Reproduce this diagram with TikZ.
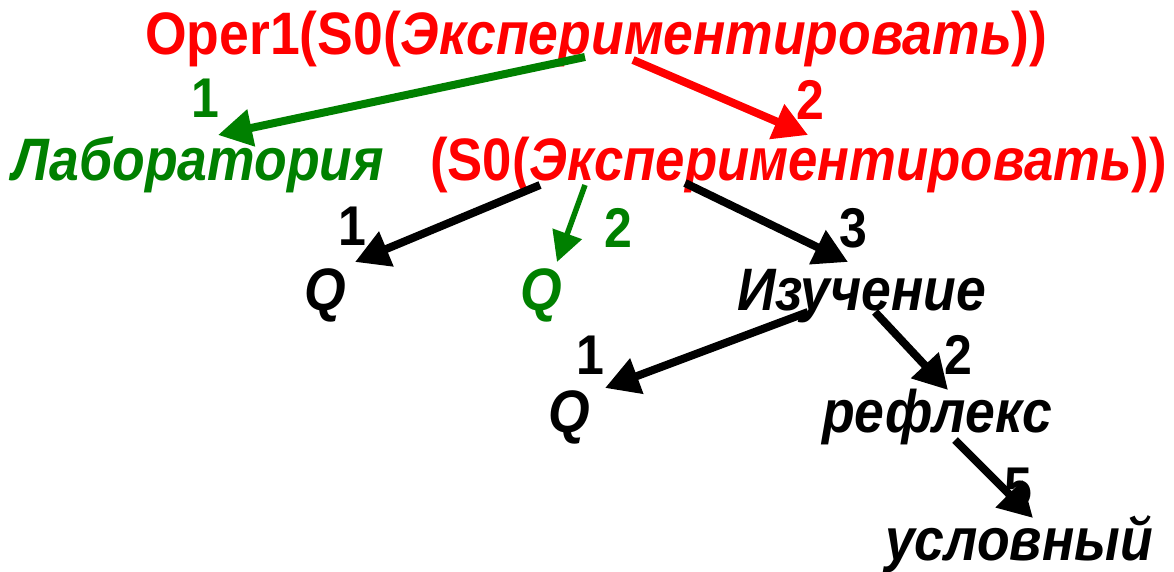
\documentclass[tikz,border=0pt]{standalone}
\usepackage{fontspec}
\setmainfont{Liberation Sans}
\usetikzlibrary{arrows.meta}
\definecolor{dgreen}{RGB}{0,128,0}
\definecolor{pred}{RGB}{255,0,0}
% slightly taller letterforms
\newcommand{\tallbox}[2][1]{\scalebox{#1}[1.12]{#2}}
\tikzset{
  word/.style={anchor=base west, inner sep=0pt, font=\fontsize{53.5}{60}\selectfont\bfseries\itshape},
  plain/.style={anchor=base west, inner sep=0pt, font=\fontsize{53.5}{60}\selectfont\bfseries},
  num/.style={inner sep=0pt, font=\fontsize{50}{54}\selectfont\bfseries},
  link/.style={line width=8pt, -{Triangle[length=34pt,width=36pt]}},
}
\begin{document}
\begin{tikzpicture}[x=1pt,y=-1pt]
\useasboundingbox (0,0) rectangle (1174,572);
% level 0
\node[plain, text=pred] (root) at (145,55) {\tallbox{Oper1(S0(\textit{Экспериментировать}))}};
% level 1
\node[word, text=dgreen] (lab) at (12,180) {\tallbox{Лаборатория}};
\node[plain, text=pred] (s0) at (430,180) {\tallbox[0.985]{(S0(\textit{Экспериментировать}))}};
% level 2
\node[word] (q1) at (304,310) {\tallbox{Q}};
\node[word, text=dgreen] (q2) at (520,310) {\tallbox{Q}};
\node[word] (izu) at (737,310) {\tallbox{Изучение}};
% level 3
\node[word] (q3) at (548,432) {\tallbox{Q}};
\node[word] (ref) at (822,432) {\tallbox{рефлекс}};
% level 4
\node[word] (usl) at (885,560) {\tallbox{условный}};

% connector ends
\coordinate (r1) at (585,57);   \coordinate (labT) at (218,135);
\coordinate (r2) at (633,60);   \coordinate (s0T) at (808,135);
\coordinate (s1) at (540,185);  \coordinate (q1T) at (355,262);
\coordinate (s2) at (585,185);  \coordinate (q2T) at (557,262);
\coordinate (s3) at (685,183);  \coordinate (izuT) at (848,262);
\coordinate (i1) at (808,312);  \coordinate (q3T) at (605,388);
\coordinate (i2) at (875,312);  \coordinate (refT) at (948,390);
\coordinate (f1) at (955,440);  \coordinate (uslT) at (1033,518);

\draw[link, dgreen] (r1) -- (labT);
\draw[link, pred] (r2) -- (s0T);
\draw[link, black] (s1) -- (q1T);
\draw[link, dgreen, line width=5.5pt, -{Triangle[length=30pt,width=30pt]}] (s2) -- (q2T);
\draw[link, black] (s3) -- (izuT);
\draw[link, black] (i1) -- (q3T);
\draw[link, black] (i2) -- (refT);
\draw[link, black] (f1) -- (uslT);

% labels
\node[num, text=dgreen] (n1) at (205,98) {\tallbox{1}};
\node[num, text=pred] (n2) at (810,100) {\tallbox{2}};
\node[num] (n3) at (352,226) {\tallbox{1}};
\node[num, text=dgreen] (n4) at (618,228) {\tallbox{2}};
\node[num] (n5) at (853,228) {\tallbox{3}};
\node[num] (n6) at (590,355) {\tallbox{1}};
\node[num] (n7) at (958,355) {\tallbox{2}};
\node[num] (n8) at (1018,488) {\tallbox{5}};
\end{tikzpicture}
\end{document}
